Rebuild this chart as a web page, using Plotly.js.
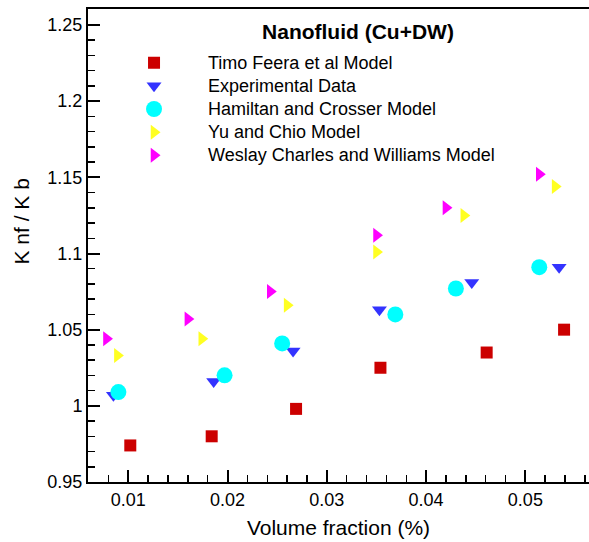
<!DOCTYPE html>
<html>
<head>
<meta charset="utf-8">
<script src="https://cdn.plot.ly/plotly-3.0.1.min.js"></script>
<style>html,body{margin:0;padding:0;background:#fff;}#chart{width:589px;height:542px;}</style>
</head>
<body>
<div id="chart"></div>
<script>
// ---- data ----
var seriesNames = [
  'Timo Feera et al Model',
  'Experimental Data',
  'Hamiltan and Crosser Model',
  'Yu and Chio Model',
  'Weslay Charles and Williams Model'
];
var timoX = [0.0102, 0.0184, 0.0269, 0.0354, 0.0461, 0.0539];
var timoY = [0.974, 0.980, 0.998, 1.025, 1.035, 1.050];
var expX  = [0.0085, 0.0186, 0.0266, 0.0353, 0.0446, 0.0534];
var expY  = [1.007, 1.016, 1.036, 1.063, 1.081, 1.091];
var hamX  = [0.0090, 0.0197, 0.0255, 0.0369, 0.0430, 0.0514];
var hamY  = [1.009, 1.020, 1.041, 1.060, 1.077, 1.091];
var yuX   = [0.0089, 0.0174, 0.0260, 0.0350, 0.0438, 0.0530];
var yuY   = [1.033, 1.044, 1.066, 1.101, 1.125, 1.144];
var wesX  = [0.0078, 0.0160, 0.0243, 0.0350, 0.0420, 0.0514];
var wesY  = [1.044, 1.057, 1.075, 1.112, 1.130, 1.152];

var chartTitle = 'Nanofluid (Cu+DW)';
var xTitle = 'Volume fraction (%)';
var yTitle = 'K nf / K b';

var FONT = 'Liberation Sans, Arial, sans-serif';

function mk(name, x, y, symbol, color, size) {
  return {
    type: 'scatter', mode: 'markers', name: '<span style="font-size:18px">' + name + '</span>',
    x: x, y: y,
    marker: {symbol: symbol, color: color, size: size, line: {width: 0}}
  };
}

var data = [
  mk(seriesNames[0], timoX, timoY, 'square', '#cc0000', 12),
  mk(seriesNames[1], expX, expY, 'triangle-down', '#3333ff', 13),
  mk(seriesNames[2], hamX, hamY, 'circle', '#00ffff', 16),
  mk(seriesNames[3], yuX, yuY, 'triangle-right', '#ffff22', 13),
  mk(seriesNames[4], wesX, wesY, 'triangle-right', '#ff00ff', 13)
];

var axisCommon = {
  showgrid: false, zeroline: false,
  showline: true, linecolor: '#000', linewidth: 2,
  ticks: 'inside', ticklen: 12, tickwidth: 2, tickcolor: '#000',
  tickfont: {family: FONT, size: 18, color: '#000'}
};

var layout = {
  width: 589, height: 542,
  margin: {l: 88, r: 0, t: 9, b: 60},
  paper_bgcolor: '#fff', plot_bgcolor: '#fff',
  font: {family: FONT, color: '#000'},
  title: {
    text: chartTitle, xref: 'container', yref: 'container',
    x: 358 / 589, y: 1 - 32 / 542, xanchor: 'center', yanchor: 'middle',
    font: {family: FONT, size: 21, weight: 'bold', color: '#000'}
  },
  xaxis: Object.assign({}, axisCommon, {
    range: [0.00594, 0.05641], dtick: 0.01, tick0: 0,
    mirror: true,
    minor: {dtick: 0.002, tick0: 0, ticks: 'inside', ticklen: 7, tickwidth: 1.5, tickcolor: '#000'},
    title: {text: xTitle, font: {family: FONT, size: 21, color: '#000'}, standoff: 12}
  }),
  yaxis: Object.assign({}, axisCommon, {
    range: [0.95, 1.2605], dtick: 0.05, tick0: 0,
    mirror: false,
    minor: {dtick: 0.01, tick0: 0, ticks: 'inside', ticklen: 7, tickwidth: 1.5, tickcolor: '#000'}
  }),
  annotations: [{
    text: yTitle, xref: 'paper', yref: 'paper',
    x: (20.5 - 88) / 501, y: 1 - (222 - 9) / 473,
    xanchor: 'center', yanchor: 'middle', textangle: -90, showarrow: false,
    font: {family: FONT, size: 21, color: '#000'}
  }],
  showlegend: true,
  legend: {
    x: 0.024, y: 0.9215, xanchor: 'left', yanchor: 'top',
    bgcolor: 'rgba(0,0,0,0)', borderwidth: 0,
    font: {family: FONT, size: 15.5, color: '#000'},
    itemwidth: 98
  }
};

Plotly.newPlot('chart', data, layout, {displayModeBar: false, staticPlot: true});
</script>
</body>
</html>
